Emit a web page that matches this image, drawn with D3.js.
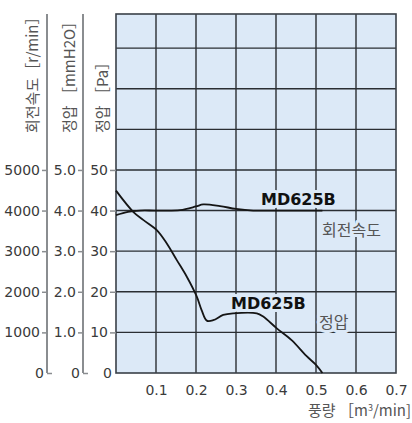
<!DOCTYPE html>
<html>
<head>
<meta charset="utf-8">
<style>
  body { margin: 0; background: #fff; }
  text { font-family: "DejaVu Sans", sans-serif; }
  .kr { font-family: "Noto Sans CJK KR", sans-serif; }
</style>
</head>
<body>
<div id="chart"></div>
<script src="https://cdn.jsdelivr.net/npm/d3@7"></script>
<script>
// flow (m3/min) vs static pressure (Pa)
var pressureFlow = [0, 0.043, 0.068, 0.102, 0.127, 0.152, 0.177, 0.202, 0.214, 0.227, 0.243, 0.268, 0.293, 0.352, 0.368, 0.402, 0.439, 0.476, 0.5, 0.516];
var pressurePa   = [44.9, 39.7, 37.7, 35.2, 31.9, 27.8, 23.7, 18.8, 15.5, 12.9, 13.0, 14.3, 14.7, 14.7, 13.9, 11.0, 8.1, 4.2, 2.0, 0];
// flow vs rotation speed (r/min)
var speedFlow = [0, 0.03, 0.06, 0.1, 0.16, 0.2, 0.218, 0.26, 0.3, 0.343, 0.4, 0.516];
var speedRpm  = [3890, 3970, 4000, 4000, 4010, 4100, 4150, 4110, 4040, 4000, 4000, 4000];

var xTicks = [0.1, 0.2, 0.3, 0.4, 0.5, 0.6, 0.7];
var paTicks = [0, 10, 20, 30, 40, 50];
var mmTicks = [0, 1, 2, 3, 4, 5];
var rpmTicks = [0, 1000, 2000, 3000, 4000, 5000];
var gridY = [10, 20, 30, 40, 50, 60, 70, 80];

var W = 412, H = 423;
var pL = 116, pR = 396, pT = 14, pB = 373;
var paMax = 88.4;

var svg = d3.select("#chart").append("svg").attr("width", W).attr("height", H);

var x = d3.scaleLinear().domain([0, 0.7]).range([pL, pR]);
var yPa = d3.scaleLinear().domain([0, paMax]).range([pB, pT]);
var yMm = d3.scaleLinear().domain([0, paMax / 10]).range([pB, pT]);
var yRpm = d3.scaleLinear().domain([0, paMax * 100]).range([pB, pT]);

// plot background
svg.append("rect").attr("x", pL).attr("y", pT)
  .attr("width", pR - pL).attr("height", pB - pT)
  .attr("fill", "#dce9f7");

// grid
svg.append("g").selectAll("line").data(xTicks.slice(0, 6)).enter().append("line")
  .attr("x1", function (d) { return x(d); }).attr("x2", function (d) { return x(d); })
  .attr("y1", pT).attr("y2", pB)
  .attr("stroke", "#2a2e33").attr("stroke-width", 1.4);
svg.append("g").selectAll("line").data(gridY).enter().append("line")
  .attr("x1", pL).attr("x2", pR)
  .attr("y1", function (d) { return yPa(d); }).attr("y2", function (d) { return yPa(d); })
  .attr("stroke", "#2a2e33").attr("stroke-width", 1.4);

svg.append("rect").attr("x", pL).attr("y", pT)
  .attr("width", pR - pL).attr("height", pB - pT)
  .attr("fill", "none").attr("stroke", "#3a4048").attr("stroke-width", 1.6);

// left axes
function leftAxis(scale, ticks, fmt, xpos) {
  var g = svg.append("g").attr("transform", "translate(" + xpos + ",0)")
    .call(d3.axisLeft(scale).tickValues(ticks).tickFormat(fmt).tickSize(5).tickSizeOuter(0).tickPadding(2));
  g.select(".domain").remove();
  g.append("line").attr("x1", 0).attr("x2", 0).attr("y1", pT).attr("y2", pB)
    .attr("stroke", "#8a8d90").attr("stroke-width", 2);
  g.selectAll(".tick line").attr("stroke", "#8a8d90").attr("stroke-width", 1.5)
    .attr("x2", function (d) { return d === 0 ? 5 : -5; });
  g.selectAll(".tick text").attr("fill", "#3a3a3a").style("font-size", "14px")
    .attr("x", function (d) { return d === 0 ? -3 : -7; });
  return g;
}
leftAxis(yRpm, rpmTicks, d3.format("d"), 47);
leftAxis(yMm, mmTicks, function (d) { return d === 0 ? "0" : d3.format(".1f")(d); }, 83);
var paAxis = svg.append("g").attr("transform", "translate(" + pL + ",0)")
  .call(d3.axisLeft(yPa).tickValues(paTicks).tickSize(6).tickSizeOuter(0).tickPadding(2));
paAxis.select(".domain").remove();
paAxis.selectAll(".tick line").attr("stroke", "#8a8d90").attr("stroke-width", 1.5)
  .attr("x2", function (d) { return d === 0 ? 0 : -6; });
paAxis.selectAll(".tick text").attr("fill", "#3a3a3a").style("font-size", "14px")
  .attr("x", function (d) { return d === 0 ? -4 : -8; });

// x axis labels
var xAxis = svg.append("g").attr("transform", "translate(0," + pB + ")")
  .call(d3.axisBottom(x).tickValues(xTicks).tickFormat(d3.format(".1f")).tickSize(0).tickPadding(12));
xAxis.select(".domain").remove();
xAxis.selectAll(".tick text").attr("fill", "#3a3a3a").style("font-size", "14px");

svg.append("text").attr("class", "kr").attr("x", 411).attr("y", 416)
  .attr("text-anchor", "end").attr("fill", "#555").style("font-size", "15px")
  .html("풍량 ［m<tspan dy='-5' style='font-size:9px'>3</tspan><tspan dy='5'>/min]</tspan>");

// vertical axis titles
var titles = [
  { t: "회전속도［r/min］", x: 38 },
  { t: "정압 ［mmH2O］", x: 75 },
  { t: "정압 ［Pa］", x: 108 }
];
svg.selectAll(".vt").data(titles).enter().append("text")
  .attr("class", "kr")
  .attr("transform", function (d) { return "translate(" + d.x + ",133) rotate(-90)"; })
  .attr("fill", "#555").style("font-size", "15px")
  .text(function (d) { return d.t; });

// curves
var line = d3.line().curve(d3.curveCatmullRom.alpha(0.5));
svg.append("path")
  .attr("d", line(speedFlow.map(function (f, i) { return [x(f), yRpm(speedRpm[i])]; })))
  .attr("fill", "none").attr("stroke", "#151515").attr("stroke-width", 1.8);
svg.append("path")
  .attr("d", line(pressureFlow.map(function (f, i) { return [x(f), yPa(pressurePa[i])]; })))
  .attr("fill", "none").attr("stroke", "#151515").attr("stroke-width", 1.8);

// labels with background halo
function label(txt, xp, yp, opts) {
  svg.append("text").attr("x", xp).attr("y", yp)
    .attr("class", opts.kr ? "kr" : null)
    .attr("fill", opts.fill).style("font-size", opts.size + "px")
    .style("font-weight", opts.bold ? "bold" : "normal")
    .attr("stroke", "#dce9f7").attr("stroke-width", 6).attr("paint-order", "stroke")
    .attr("stroke-linejoin", "round")
    .text(txt);
}
label("MD625B", 261, 205, { fill: "#111", size: 16, bold: true });
label("회전속도", 322, 236, { fill: "#555", size: 16, kr: true });
label("MD625B", 231, 309, { fill: "#111", size: 16, bold: true });
label("정압", 319, 328, { fill: "#555", size: 16, kr: true });
</script>
</body>
</html>
